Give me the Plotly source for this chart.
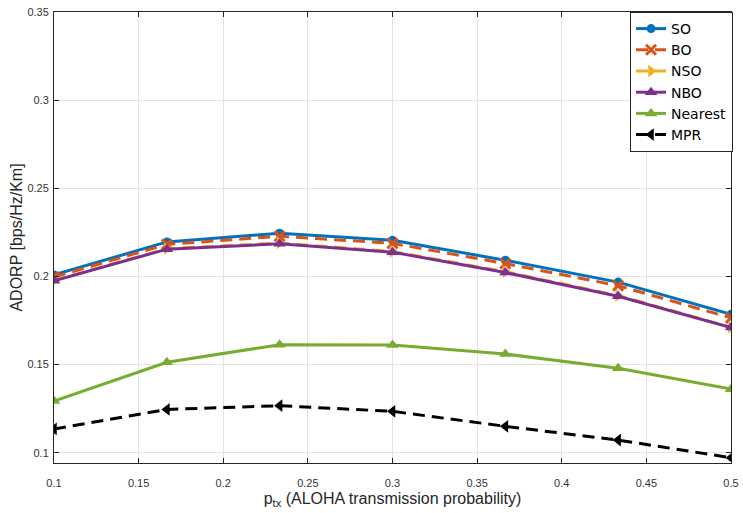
import plotly.graph_objects as go

p_tx = [0.1, 0.1667, 0.2333, 0.3, 0.3667, 0.4333, 0.5]
so = [0.2009, 0.2196, 0.2245, 0.2205, 0.2092, 0.1968, 0.1785]
bo = [0.1997, 0.2182, 0.2228, 0.2188, 0.2073, 0.1948, 0.1765]
nso = [0.1978, 0.2158, 0.2190, 0.2142, 0.2027, 0.1892, 0.1712]
nbo = [0.1975, 0.2155, 0.2185, 0.2138, 0.2022, 0.1888, 0.1710]
nearest = [0.1293, 0.1513, 0.1613, 0.1611, 0.1560, 0.1479, 0.1361]
mpr = [0.1135, 0.1246, 0.1267, 0.1235, 0.1150, 0.1072, 0.0972]

x_ticks = [0.1, 0.15, 0.2, 0.25, 0.3, 0.35, 0.4, 0.45, 0.5]
x_labels = ["0.1", "0.15", "0.2", "0.25", "0.3", "0.35", "0.4", "0.45", "0.5"]
y_ticks = [0.1, 0.15, 0.2, 0.25, 0.3, 0.35]
y_labels = ["0.1", "0.15", "0.2", "0.25", "0.3", "0.35"]

DASH = "12px,7px"
series = [
    ("SO", so, "#0072BD", "solid", "circle", 9),
    ("BO", bo, "#D95319", DASH, "x-thin-open", 10),
    ("NSO", nso, "#EDB120", DASH, "triangle-right", 11),
    ("NBO", nbo, "#7E2F8E", "solid", "triangle-up", 11),
    ("Nearest", nearest, "#77AC30", "solid", "triangle-up", 11),
    ("MPR", mpr, "black", DASH, "triangle-left", 11),
]

fig = go.Figure()
for name, ys, color, dash, sym, size in series:
    fig.add_trace(go.Scatter(
        x=p_tx, y=ys, name=name, mode="lines+markers",
        line=dict(color=color, width=3, dash=dash),
        marker=dict(symbol=sym, size=size, color=color,
                    line=dict(color=color, width=3 if sym.startswith("x") else 0)),
    ))

axis_common = dict(
    showline=True, linecolor="#262626", linewidth=1, mirror="allticks",
    ticks="inside", ticklen=5, tickcolor="#262626",
    showgrid=True, gridcolor="#e3e3e3", gridwidth=1, zeroline=False,
    automargin=False,
    tickfont=dict(family="Liberation Sans, Arial", size=11, color="#333333"),
)

fig.update_layout(
    width=743, height=513,
    margin=dict(l=54, r=10, t=12, b=50),
    paper_bgcolor="white", plot_bgcolor="white",
    font=dict(family="Liberation Sans, Arial", color="#262626"),
    xaxis=dict(range=[0.1, 0.5], tickvals=x_ticks, ticktext=x_labels,
               ticklabelstandoff=10,
               title=dict(text="p<sub>tx</sub> (ALOHA transmission probability)",
                          font=dict(size=16), standoff=4),
               **axis_common),
    yaxis=dict(range=[0.0942, 0.35], tickvals=y_ticks, ticktext=y_labels,
               ticklabelstandoff=2,
               title=dict(text="ADORP [bps/Hz/Km]", font=dict(size=16), standoff=0),
               **axis_common),
    legend=dict(x=1.003, y=1.0, xanchor="right", yanchor="top",
                bgcolor="white", bordercolor="#262626", borderwidth=1,
                font=dict(family="DejaVu Sans", size=14, color="black"), tracegroupgap=0,
                itemwidth=30),
    showlegend=True,
)

fig.write_html("out.html")
